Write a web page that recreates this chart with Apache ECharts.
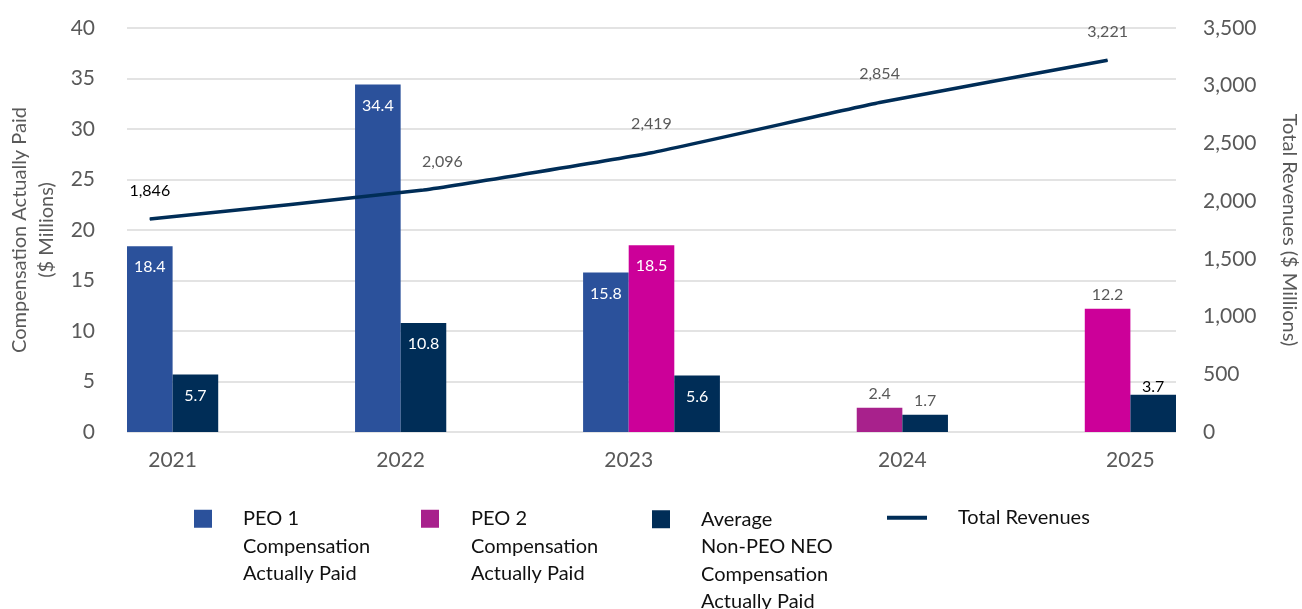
<!DOCTYPE html>
<html>
<head>
<meta charset="utf-8">
<script src="https://cdn.jsdelivr.net/npm/echarts@6/dist/echarts.min.js"></script>
<style>
  html, body { margin: 0; padding: 0; background: #ffffff; }
  #chart { width: 1302px; height: 609px; }
</style>
</head>
<body>
<div id="chart"></div>
<script>
// ---- data ----
const years = ['2021', '2022', '2023', '2024', '2025'];
const peo1Cap = [18.4, 34.4, 15.8, null, null];
const peo2Cap = [null, null, 18.5, 2.4, 12.2];
const avgNeoCap = [5.7, 10.8, 5.6, 1.7, 3.7];
const totalRevenues = [1846, 2096, 2419, 2854, 3221];

const NAME_PEO1 = 'PEO 1\nCompensation\nActually Paid';
const NAME_PEO2 = 'PEO 2\nCompensation\nActually Paid';
const NAME_AVG = 'Average\nNon-PEO NEO\nCompensation\nActually Paid';
const NAME_REV = 'Total Revenues';

// ---- layout: each year owns a block of bar-wide slots ----
const SLOTS_PER_YEAR = 5;
const barSlot = { peo1: [0, 0, 0, 0, 0], peo2: [1, 1, 1, 1, 1], avg: [1, 1, 2, 2, 2] };
const lineSlot = [0, 1, 1, 1, 1];       // slot whose centre carries the revenue point
const yearEdge = [1, 1, 1, 2, 2];       // slot edge under which the year is written
const N_SLOTS = SLOTS_PER_YEAR * (years.length - 1) + 3;

// ---- styles ----
const FONT = 'Lato';
const GREY = '#595959';
const C_PEO1 = '#2B519B';
const C_PEO2 = '#CC0099';
const C_PEO2_ALT = '#A8218C';
const C_AVG = '#002D57';
const C_LINE = '#002D57';

const labelIn = { show: true, position: 'insideTop', distance: 13, color: '#ffffff', fontSize: 16, fontFamily: FONT };
const labelTop = { show: true, position: 'top', distance: 6, color: GREY, fontSize: 16, fontFamily: FONT };

const peo1Place = ['in', 'in', 'in', null, null];
const peo2Place = [null, null, 'in', 'top', 'top'];
const avgPlace = ['in', 'in', 'in', 'top', 'topDark'];
const peo2Colors = [C_PEO2, C_PEO2, C_PEO2, C_PEO2_ALT, C_PEO2];

function placeLabel(p) {
  if (p === 'in') return labelIn;
  if (p === 'topDark') return Object.assign({}, labelTop, { color: '#000000', distance: 0 });
  return labelTop;
}

function slotSeries(values, offsets, places, colors) {
  const out = new Array(N_SLOTS).fill(null);
  values.forEach((v, i) => {
    if (v == null) return;
    const item = { value: v, label: placeLabel(places[i]) };
    if (colors) item.itemStyle = { color: colors[i] };
    out[i * SLOTS_PER_YEAR + offsets[i]] = item;
  });
  return out;
}

// fine axis: half-slot ticks so both slot centres and slot edges are addressable
const halfTicks = new Array(2 * N_SLOTS + 1).fill('');
years.forEach((y, i) => { halfTicks[2 * (i * SLOTS_PER_YEAR + yearEdge[i])] = y; });

const revData = new Array(2 * N_SLOTS + 1).fill(null);
totalRevenues.forEach((v, i) => {
  const label = { show: true, position: 'top', distance: 20, color: GREY, fontSize: 16, fontFamily: FONT,
                  formatter: (p) => p.value.toLocaleString('en-US') };
  if (i === 0) label.color = '#000000';
  if (i === 1) label.offset = [19, 0];
  revData[2 * (i * SLOTS_PER_YEAR + lineSlot[i]) + 1] = { value: v, label: label };
});

const chart = echarts.init(document.getElementById('chart'), null, { renderer: 'canvas' });

// legend entry whose marker sits beside the first text line
function legendFor(name, left, top, lines, iconW, iconH, padLeft) {
  return {
    data: [{ name: name, icon: 'rect' }],
    orient: 'horizontal',
    left: left, top: top,
    padding: 0,
    itemWidth: iconW,
    itemHeight: iconH,
    selectedMode: false,
    formatter: (n) => '\n'.repeat(lines - 1) + n,
    textStyle: {
      fontFamily: FONT, fontSize: 20, color: '#111111', lineHeight: 27.5,
      padding: [0, 0, 0, padLeft]
    }
  };
}

chart.setOption({
  animation: false,
  backgroundColor: '#ffffff',
  textStyle: { fontFamily: FONT },
  grid: { left: 127, right: 126, top: 28, bottom: 177, containLabel: false, outerBoundsMode: 'none' },
  legend: [
    legendFor(NAME_PEO1, 194, 450, 3, 18, 18, 26),
    legendFor(NAME_PEO2, 421, 450, 3, 18, 18, 27),
    legendFor(NAME_AVG, 652, 423, 4, 18, 18, 26),
    legendFor(NAME_REV, 887, 504, 1, 40, 4, 26)
  ],
  xAxis: [
    {
      type: 'category',
      data: new Array(N_SLOTS).fill(''),
      boundaryGap: true,
      axisLine: { show: false }, axisTick: { show: false }, axisLabel: { show: false },
      position: 'bottom'
    },
    {
      type: 'category',
      data: halfTicks,
      boundaryGap: false,
      position: 'bottom',
      axisLine: { show: false }, axisTick: { show: false },
      axisLabel: { interval: 0, color: GREY, fontSize: 21, fontFamily: FONT, margin: 18 }
    }
  ],
  yAxis: [
    {
      type: 'value', min: 0, max: 40, interval: 5,
      name: 'Compensation Actually Paid\n($ Millions)',
      nameLocation: 'middle', nameRotate: 90, nameGap: 64,
      nameTextStyle: { color: GREY, fontSize: 20, fontFamily: FONT, lineHeight: 27 },
      axisLine: { show: false }, axisTick: { show: false },
      axisLabel: { color: GREY, fontSize: 21, fontFamily: FONT, margin: 32 },
      splitLine: { show: true, lineStyle: { color: '#E3E3E3', width: 2 } }
    },
    {
      type: 'value', min: 0, max: 3500, interval: 500,
      name: 'Total Revenues ($ Millions)',
      nameLocation: 'middle', nameRotate: -90, nameGap: 103,
      nameTextStyle: { color: GREY, fontSize: 20, fontFamily: FONT },
      axisLine: { show: false }, axisTick: { show: false },
      axisLabel: { color: GREY, fontSize: 21, fontFamily: FONT, margin: 27,
                   formatter: (v) => v.toLocaleString('en-US') },
      splitLine: { show: false }
    }
  ],
  series: [
    {
      name: NAME_PEO1, type: 'bar', xAxisIndex: 0, yAxisIndex: 0,
      barGap: '-100%', barCategoryGap: '0%',
      itemStyle: { color: C_PEO1 },
      data: slotSeries(peo1Cap, barSlot.peo1, peo1Place)
    },
    {
      name: NAME_PEO2, type: 'bar', xAxisIndex: 0, yAxisIndex: 0,
      barGap: '-100%', barCategoryGap: '0%',
      itemStyle: { color: C_PEO2_ALT },
      data: slotSeries(peo2Cap, barSlot.peo2, peo2Place, peo2Colors)
    },
    {
      name: NAME_AVG, type: 'bar', xAxisIndex: 0, yAxisIndex: 0,
      barGap: '-100%', barCategoryGap: '0%',
      itemStyle: { color: C_AVG },
      data: slotSeries(avgNeoCap, barSlot.avg, avgPlace)
    },
    {
      name: NAME_REV, type: 'line', xAxisIndex: 1, yAxisIndex: 1,
      connectNulls: true, smooth: 0.12,
      symbol: 'circle', symbolSize: 1, showSymbol: true,
      lineStyle: { color: C_LINE, width: 3.5 },
      itemStyle: { color: C_LINE },
      z: 5,
      data: revData
    }
  ]
});
</script>
</body>
</html>
